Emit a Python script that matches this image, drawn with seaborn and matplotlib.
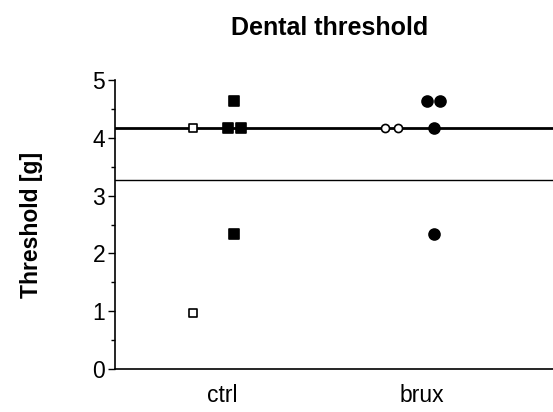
import numpy as np
import pandas as pd
import matplotlib
matplotlib.use("Agg")
import matplotlib.pyplot as plt
import seaborn as sns
from matplotlib.ticker import MultipleLocator

# ---- data ----
groups = ["ctrl", "brux"]
ctrl_open = [4.17, 0.97]
ctrl_filled = [4.63, 4.17, 4.17, 2.33]
brux_open = [4.17, 4.17]
brux_filled = [4.63, 4.63, 4.17, 2.33]
line_upper = 4.17
line_lower = 3.27
title = "Dental threshold"
ylabel = "Threshold [g]"
yticks = [0, 1, 2, 3, 4, 5]

rows = []
for g, kind, vals in [("ctrl", "open", ctrl_open), ("ctrl", "filled", ctrl_filled),
                      ("brux", "open", brux_open), ("brux", "filled", brux_filled)]:
    for v in vals:
        rows.append({"group": g, "kind": kind, "value": v})
df = pd.DataFrame(rows)

# layout: column offsets and tie spreading (computed, not typed per point)
gpos = {g: i for i, g in enumerate(groups)}
koff = {"open": -0.15, "filled": 0.06}
spread = 0.066
df["x"] = 0.0
for (g, k), sub in df.groupby(["group", "kind"]):
    for v, s2 in sub.groupby("value"):
        n = len(s2)
        offs = (np.arange(n) - (n - 1) / 2) * spread
        df.loc[s2.index, "x"] = gpos[g] + koff[k] + offs

sns.set_theme(style="ticks")
plt.rcParams["font.family"] = ["Liberation Sans", "DejaVu Sans"]
for key in ["text.color", "axes.labelcolor", "xtick.color", "ytick.color", "axes.edgecolor"]:
    plt.rcParams[key] = "black"

fig = plt.figure(figsize=(5.53, 4.12), dpi=100)
ax = fig.add_axes([115 / 553, 1 - 369 / 412, 1 - 115 / 553, (369 - 80) / 412])

styles = {
    ("square", "open"): dict(marker="s", facecolor="white", s=30),
    ("square", "filled"): dict(marker="s", facecolor="black", s=55),
    ("circle", "open"): dict(marker="o", facecolor="white", s=34),
    ("circle", "filled"): dict(marker="o", facecolor="black", s=62),
}
shape = {"ctrl": "square", "brux": "circle"}
ax.axhline(line_upper, color="black", lw=2.0, zorder=1)
ax.axhline(line_lower, color="black", lw=1.0, zorder=1)
for (g, k), sub in df.groupby(["group", "kind"]):
    st = styles[(shape[g], k)]
    sns.scatterplot(data=sub, x="x", y="value", ax=ax, marker=st["marker"],
                    s=st["s"], color=st["facecolor"], edgecolor="black",
                    linewidth=1.2, zorder=3, legend=False)

ax.set_xlim(-0.54, 1.66)
ax.set_ylim(0, 5)
ax.set_yticks(yticks)
ax.yaxis.set_minor_locator(MultipleLocator(0.5))
ax.set_xticks([gpos[g] for g in groups])
ax.set_xticklabels(groups)
ax.tick_params(axis="x", length=0, pad=11, labelsize=16.5)
ax.tick_params(axis="y", which="major", length=5, width=1, pad=2, labelsize=16.5)
ax.tick_params(axis="y", which="minor", length=3, width=1)
for sp in ["top", "right"]:
    ax.spines[sp].set_visible(False)
for sp in ["left", "bottom"]:
    ax.spines[sp].set_linewidth(1.2)
ax.set_xlabel("")
ax.set_ylabel(ylabel, fontsize=16.5, fontweight="bold", labelpad=36)
fig.text(330 / 553, 1 - 28 / 412, title, ha="center", va="center",
         fontsize=18, fontweight="bold")

fig.savefig("out.png", dpi=100)
